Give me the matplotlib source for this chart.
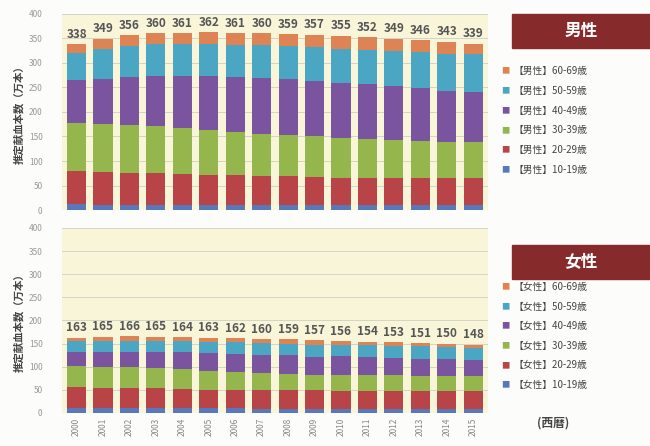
import matplotlib.pyplot as plt
import numpy as np

plt.rcParams['font.family'] = ['Noto Sans CJK JP', 'DejaVu Sans']

years = [str(y) for y in range(2000, 2016)]
ages = ['10-19', '20-29', '30-39', '40-49', '50-59', '60-69']

# 男性 (万本), 年齢層ごと
male_10 = [12, 10, 10, 10, 10, 10, 10, 10, 10, 10, 10, 10, 10, 10, 10, 11]
male_20 = [67, 68, 66, 65, 64, 62, 61, 59, 59, 58, 56, 56, 56, 55, 55, 54]
male_30 = [99, 97, 97, 96, 93, 92, 88, 87, 83, 82, 80, 78, 76, 76, 73, 73]
male_40 = [88, 93, 99, 102, 107, 109, 112, 113, 116, 114, 114, 112, 111, 107, 105, 102]
male_50 = [54, 61, 63, 65, 65, 66, 66, 67, 67, 68, 69, 71, 72, 75, 76, 78]
male_60 = [18, 20, 21, 22, 22, 23, 24, 24, 24, 25, 26, 25, 24, 23, 24, 21]
male_total = [338, 349, 356, 360, 361, 362, 361, 360, 359, 357, 355, 352, 349, 346, 343, 339]

# 女性 (万本)
female_10 = [10, 10, 10, 10, 10, 10, 10, 9, 9, 9, 8, 8, 8, 8, 8, 8]
female_20 = [47, 45, 44, 43, 42, 40, 40, 41, 40, 40, 40, 40, 39, 40, 40, 40]
female_30 = [45, 45, 45, 44, 42, 40, 38, 36, 36, 34, 35, 35, 36, 32, 31, 31]
female_40 = [30, 31, 32, 34, 37, 40, 40, 40, 40, 39, 40, 37, 36, 37, 38, 36]
female_50 = [23, 25, 25, 24, 24, 24, 25, 25, 25, 26, 25, 26, 25, 27, 26, 25]
female_60 = [8, 9, 10, 10, 9, 9, 9, 9, 9, 9, 8, 8, 9, 7, 7, 8]
female_total = [163, 165, 166, 165, 164, 163, 162, 160, 159, 157, 156, 154, 153, 151, 150, 148]

colors = ['#5878b8', '#b84448', '#94b64c', '#7b54a0', '#4aa6c2', '#de8454']
cream = '#f9f5d9'
header = '#862a2c'

fig = plt.figure(figsize=(6.5, 4.46), dpi=100)
fig.patch.set_facecolor('#fcfcfa')

ax1 = fig.add_axes([0.0954, 0.529, 0.655, 0.440])
ax2 = fig.add_axes([0.0954, 0.074, 0.655, 0.415])

x = np.arange(len(years))


def draw(ax, layers, totals, show_x):
    ax.set_facecolor(cream)
    bottom = np.zeros(len(years))
    for vals, c in zip(layers, colors):
        ax.bar(x, vals, 0.72, bottom=bottom, color=c, zorder=3)
        bottom += np.array(vals)
    for xi, t, b in zip(x, totals, bottom):
        ax.text(xi, b + 7, str(t), ha='center', va='bottom', fontsize=8.5,
                color='#555555', fontweight='bold', zorder=4)
    ax.set_ylim(0, 400)
    ax.set_xlim(-0.55, 15.55)
    ax.set_yticks(range(0, 401, 50))
    ax.yaxis.grid(True, color='#cfcfc4', linewidth=0.6, zorder=0)
    ax.tick_params(axis='y', length=0, labelsize=6, labelcolor='#999999', pad=14)
    ax.tick_params(axis='x', length=0)
    for s in ax.spines.values():
        s.set_visible(False)
    if show_x:
        ax.set_xticks(x)
        ax.set_xticklabels(years, rotation=90, fontsize=6, color='#888888')
    else:
        ax.set_xticks([])
    ax.set_ylabel('推定献血本数（万本）', fontsize=7.5, color='#444444',
                  fontweight='bold', labelpad=3)


draw(ax1, [male_10, male_20, male_30, male_40, male_50, male_60], male_total, False)
draw(ax2, [female_10, female_20, female_30, female_40, female_50, female_60], female_total, True)


def legend_block(label, y_head, y_items, gap):
    fig.patches.append(plt.Rectangle((512 / 650, 1 - (y_head + 17) / 446), 138 / 650, 34 / 446,
                                     transform=fig.transFigure, color=header))
    fig.text(581 / 650, 1 - y_head / 446, label, ha='center', va='center',
             fontsize=12, color='white', fontweight='bold')
    for i, age in enumerate(reversed(ages)):
        yy = 1 - (y_items + i * gap) / 446
        fig.text(505 / 650, yy, '■', ha='center', va='center', fontsize=6,
                 color=colors[len(ages) - 1 - i])
        fig.text(514 / 650, yy, f'【{label}】{age}歳', ha='left', va='center',
                 fontsize=7, color='#444444')


legend_block('男性', 31, 71, 19.8)
legend_block('女性', 262, 287, 19.6)

fig.text(553 / 650, 1 - 423 / 446, '(西暦)', ha='center', va='center',
         fontsize=8.5, color='#444444', fontweight='bold')

fig.savefig('out.png', dpi=100, facecolor=fig.get_facecolor())
